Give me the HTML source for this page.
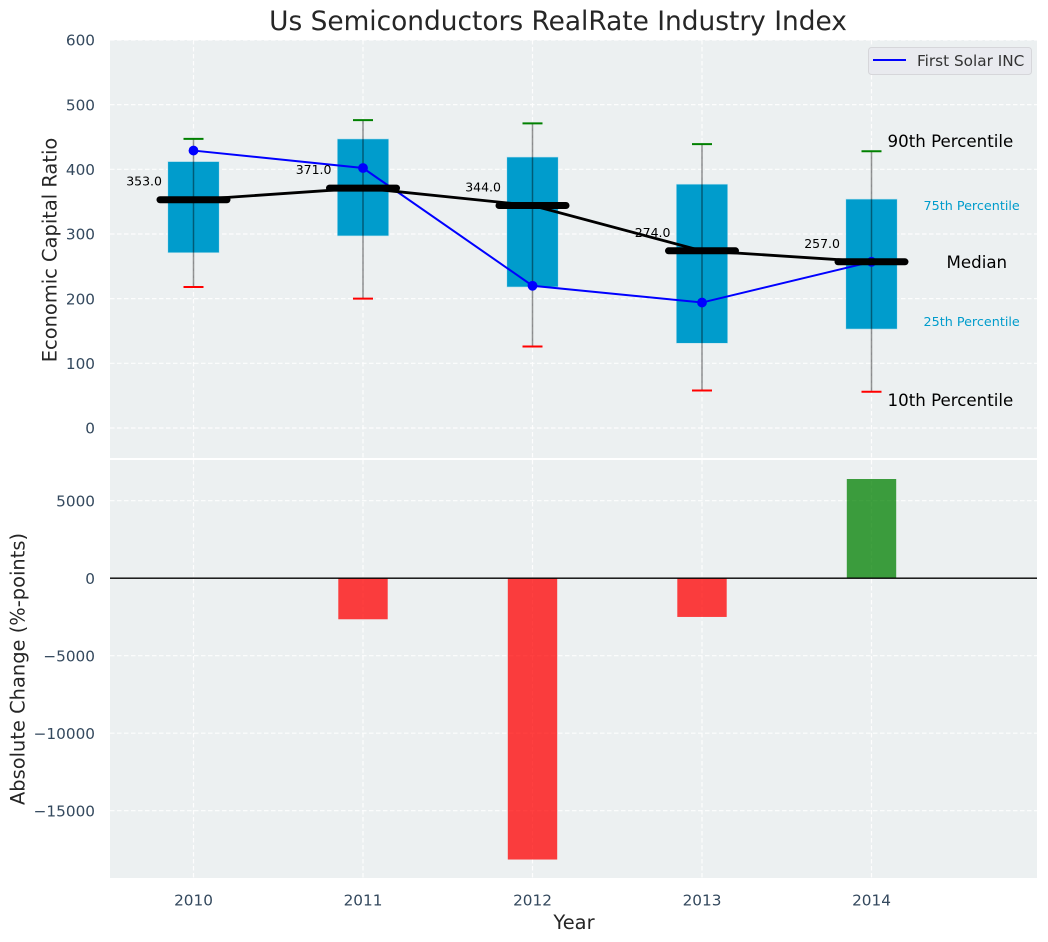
<!DOCTYPE html>
<html>
<head>
<meta charset="utf-8">
<title>Us Semiconductors RealRate Industry Index</title>
<style>
html,body{margin:0;padding:0;background:#fff;}
svg{display:block;font-family:"DejaVu Sans","Liberation Sans",sans-serif;}
</style>
</head>
<body>
<svg id="chart" xmlns="http://www.w3.org/2000/svg" width="1048" height="942" viewBox="0 0 1048 942">
  <rect x="0" y="0" width="1048" height="942" fill="#ffffff"/>
  <rect x="110" y="40" width="927" height="418" fill="#ecf0f1"/>
  <rect x="110" y="460" width="927" height="418" fill="#ecf0f1"/>
  <g id="grid"></g>
  <g id="marks"></g>
  <text x="558" y="30" font-size="26.4" text-anchor="middle" fill="#262626">Us Semiconductors RealRate Industry Index</text>
  <text transform="translate(56.5,250) rotate(-90)" font-size="19.44" text-anchor="middle" fill="#262626">Economic Capital Ratio</text>
  <text transform="translate(24.5,669) rotate(-90)" font-size="19.44" text-anchor="middle" fill="#262626">Absolute Change (%-points)</text>
  <text x="574" y="929" font-size="19.44" text-anchor="middle" fill="#262626">Year</text>
  <g>
    <rect x="868.5" y="47.5" width="163" height="27" rx="3" fill="#e9eaef" stroke="#d6d6da" stroke-width="1"/>
    <line x1="873" y1="60" x2="906" y2="60" stroke="#0000ff" stroke-width="2"/>
    <text x="917" y="66" font-size="15.28" fill="#333333">First Solar INC</text>
  </g>
</svg>
<script>
const years = [2010, 2011, 2012, 2013, 2014];
const p90 = [447, 476, 471, 439, 428];
const p75 = [412, 447, 419, 377, 354];
const medians = [353, 371, 344, 274, 257];
const p25 = [271, 297, 218, 131, 153];
const p10 = [218, 200, 126, 58, 56];
const firstSolar = [429, 402, 220, 194, 257];
const changes = [0, -2650, -18150, -2500, 6400];
const topTicks = [0, 100, 200, 300, 400, 500, 600];
const bottomTicks = [-15000, -10000, -5000, 0, 5000];

const NS = 'http://www.w3.org/2000/svg';
const gridLayer = document.getElementById('grid');
const marks = document.getElementById('marks');

const xScale = v => 193.5 + (v - 2010) * 169.5;
const yTop = v => 428 - v * 0.6467;
const yBottom = v => 578.2 - v * 0.0155;

function make(parent, tag, attrs, content) {
  const node = document.createElementNS(NS, tag);
  for (const key in attrs) node.setAttribute(key, attrs[key]);
  if (content !== undefined) node.textContent = content;
  parent.appendChild(node);
  return node;
}

const GRID = {stroke: '#ffffff', 'stroke-width': 1.2, 'stroke-dasharray': '4.5 2.5', opacity: 0.9};
const TICK = '#34495e';

years.forEach(y => {
  const gv1 = make(gridLayer, 'line', {x1: xScale(y), x2: xScale(y), y1: 40, y2: 458, ...GRID});
  
  
  const gv2 = make(gridLayer, 'line', {x1: xScale(y), x2: xScale(y), y1: 460, y2: 878, ...GRID});
  
  
  const tick = make(gridLayer, 'text', {x: xScale(y), y: 905.5, 'font-size': 15.28, 'text-anchor': 'middle', fill: TICK}, String(y));
  
  
});

topTicks.forEach(t => {
  const g = make(gridLayer, 'line', {x1: 110, x2: 1037, y1: yTop(t), y2: yTop(t), ...GRID});
  
  
  const label = make(gridLayer, 'text', {x: 95, y: yTop(t) + 5.6, 'font-size': 15.28, 'text-anchor': 'end', fill: TICK}, String(t));
  
  
});

bottomTicks.forEach(t => {
  const g = make(gridLayer, 'line', {x1: 110, x2: 1037, y1: yBottom(t), y2: yBottom(t), ...GRID});
  
  
  const label = make(gridLayer, 'text', {x: 95, y: yBottom(t) + 5.6, 'font-size': 15.28, 'text-anchor': 'end', fill: TICK}, String(t).replace('-', '\u2212'));
  
  
});

years.forEach((y, i) => {
  const cx = xScale(y);
  const box = make(marks, 'rect', {x: cx - 25.7, width: 51.4, y: yTop(p75[i]), height: yTop(p25[i]) - yTop(p75[i]), fill: '#009ccc', stroke: '#bfe3ee', 'stroke-width': 0.6});
  
  
  const whisker = make(marks, 'line', {x1: cx, x2: cx, y1: yTop(p90[i]), y2: yTop(p10[i]), stroke: '#000000', 'stroke-opacity': 0.42, 'stroke-width': 1.5});
  
  
  const capHigh = make(marks, 'line', {x1: cx - 10, x2: cx + 10, y1: yTop(p90[i]), y2: yTop(p90[i]), stroke: '#008000', 'stroke-width': 2});
  
  
  const capLow = make(marks, 'line', {x1: cx - 10, x2: cx + 10, y1: yTop(p10[i]), y2: yTop(p10[i]), stroke: '#ff0000', 'stroke-width': 2});
  
  
});

const solarPoints = years.map((y, i) => xScale(y) + ',' + yTop(firstSolar[i])).join(' ');
const solarLine = make(marks, 'polyline', {points: solarPoints, fill: 'none', stroke: '#0000ff', 'stroke-width': 2});


years.forEach((y, i) => {
  const dot = make(marks, 'circle', {cx: xScale(y), cy: yTop(firstSolar[i]), r: 4.9, fill: '#0000ff'});
  
  
});

const medianPoints = years.map((y, i) => xScale(y) + ',' + yTop(medians[i])).join(' ');
const medianLine = make(marks, 'polyline', {points: medianPoints, fill: 'none', stroke: '#000000', 'stroke-width': 2.8});



years.forEach((y, i) => {
  const cx = xScale(y);
  const seg = make(marks, 'line', {x1: cx - 33.5, x2: cx + 33.5, y1: yTop(medians[i]), y2: yTop(medians[i]), stroke: '#000000', 'stroke-width': 7, 'stroke-linecap': 'round'});
  
  
  const label = make(marks, 'text', {x: cx - 31.5, y: yTop(medians[i]) - 14, 'font-size': 12.5, 'text-anchor': 'end', fill: '#000000'}, medians[i].toFixed(1));
  
  
});

changes.forEach((c, i) => {
  if (c === 0) return;
  const cx = xScale(years[i]);
  const top = Math.min(yBottom(c), yBottom(0));
  const h = Math.abs(yBottom(c) - yBottom(0));
  const bar = make(marks, 'rect', {x: cx - 24.7, width: 49.4, y: top, height: h, fill: c < 0 ? '#ff0000' : '#008000', 'fill-opacity': 0.75});
  
  
});

const zeroLine = make(marks, 'line', {x1: 110, x2: 1037, y1: yBottom(0), y2: yBottom(0), stroke: '#000000', 'stroke-width': 1.4});



const last = years.length - 1;
const lastX = xScale(years[last]);
const a90 = make(marks, 'text', {x: lastX + 16, y: yTop(p90[last]) - 4, 'font-size': 16.67, fill: '#000000'}, '90th Percentile');


const a75 = make(marks, 'text', {x: lastX + 52, y: yTop(p75[last]) + 11, 'font-size': 12.75, fill: '#009ccc'}, '75th Percentile');


const aMed = make(marks, 'text', {x: lastX + 75, y: yTop(medians[last]) + 6, 'font-size': 16.67, fill: '#000000'}, 'Median');


const a25 = make(marks, 'text', {x: lastX + 52, y: yTop(p25[last]) - 3, 'font-size': 12.75, fill: '#009ccc'}, '25th Percentile');


const a10 = make(marks, 'text', {x: lastX + 16, y: yTop(p10[last]) + 14, 'font-size': 16.67, fill: '#000000'}, '10th Percentile');


</script>
</body>
</html>
